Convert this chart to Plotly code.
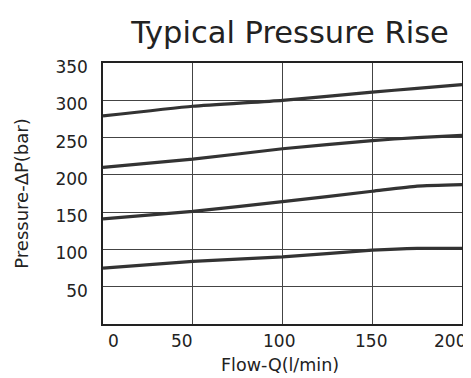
import plotly.graph_objects as go

flow = [0, 50, 100, 150, 175, 200]
curve_1 = [279, 292, 300, 311, 316, 321]
curve_2 = [210, 221, 235, 246, 250, 253]
curve_3 = [141, 151, 164, 178, 185, 187]
curve_4 = [75, 84, 90, 99, 101.5, 101.5]
x_ticks = [0, 50, 100, 150, 200]
x_shift = [10, -11, -4, -1, -12]
y_ticks = [50, 100, 150, 200, 250, 300, 350]

FONT = "DejaVu Sans"
W, H = 463, 370  # page body has an 8px margin
fig = go.Figure()
for ys in [curve_1, curve_2, curve_3, curve_4]:
    fig.add_trace(go.Scatter(x=flow, y=ys, mode="lines",
                             line=dict(color="#333333", width=3.2, shape="spline", smoothing=0.5),
                             showlegend=False, hoverinfo="skip"))

for t, s in zip(x_ticks, x_shift):
    fig.add_annotation(x=t, y=0, xref="x", yref="y", text=str(t), showarrow=False,
                       xshift=s, yshift=-17, font=dict(family=FONT, size=17, color="#222"))

fig.add_annotation(x=(280 - 103) / 359, xref="paper", y=0, yref="paper", yshift=-41,
                   text="Flow-Q(l/min)", showarrow=False, yanchor="middle", xanchor="center",
                   font=dict(family=FONT, size=17.5, color="#222"))

fig.update_layout(
    width=W, height=H,
    margin=dict(l=95, r=9, t=55, b=54, autoexpand=False),
    paper_bgcolor="white", plot_bgcolor="white",
    title=dict(text="Typical Pressure Rise", x=(290 - 8) / W, xanchor="center",
               y=1 - (32 - 8) / H, yanchor="middle",
               font=dict(family=FONT, size=30.5, color="#222")),
    xaxis=dict(range=[0, 200], tickvals=x_ticks, showticklabels=False, showgrid=True,
               gridcolor="#444", gridwidth=1, zeroline=False, showline=True, linecolor="#222",
               linewidth=1.5, mirror=True, ticks=""),
    yaxis=dict(range=[0, 350], tickvals=y_ticks, showgrid=True, gridcolor="#444", gridwidth=1,
               zeroline=False, showline=True, linecolor="#222", linewidth=1.5, mirror=True,
               ticks="", ticklabelstandoff=10, ticklabelshift=4,
               tickfont=dict(family=FONT, size=17, color="#222"),
               title=dict(text="Pressure-ΔP(bar)", standoff=22, font=dict(family=FONT, size=18, color="#222"))),
)
fig.write_html("out.html")
